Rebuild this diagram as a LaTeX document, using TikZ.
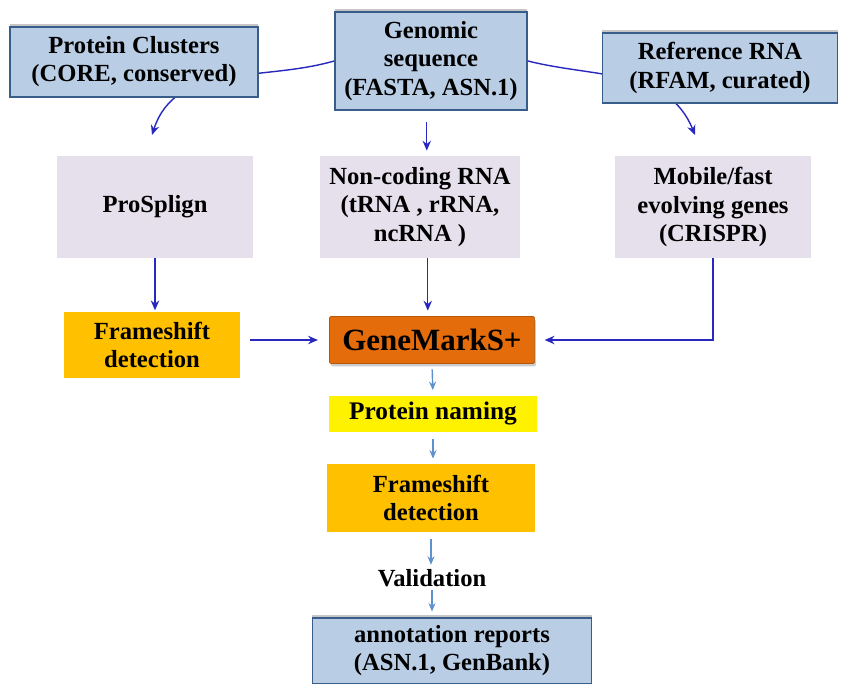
\documentclass[tikz,border=0pt]{standalone}
\usepackage{fontspec}
\setmainfont{LiberationSerif}[Extension=.ttf,UprightFont=*-Regular,BoldFont=*-Bold]
\usetikzlibrary{arrows.meta,shadows,backgrounds}
\definecolor{boxblue}{RGB}{185,205,229}
\definecolor{edgeblue}{RGB}{56,93,138}
\definecolor{lavender}{RGB}{230,224,236}
\definecolor{amber}{RGB}{255,192,0}
\definecolor{rust}{RGB}{228,108,10}
\definecolor{lineblue}{RGB}{40,40,190}
\definecolor{lightarrow}{RGB}{95,145,205}
\begin{document}
\begin{tikzpicture}[x=0.025cm,y=-0.025cm]
\tikzstyle{every node}=[align=center,inner sep=0pt,font=\rmfamily\bfseries\fontsize{17.5}{20}\selectfont]
\tikzstyle{bluebox}=[draw=edgeblue,fill=boxblue,line width=1.2pt,
drop shadow={shadow xshift=0pt,shadow yshift=2pt,opacity=0.45}]
\tikzstyle{lavbox}=[fill=lavender,minimum width=4.9cm,minimum height=2.525cm]
\tikzstyle{amberbox}=[fill=amber]
\tikzstyle{darr}=[lineblue,line width=1pt,-{Stealth[length=7pt,width=6pt]}]
\tikzstyle{larr}=[lightarrow,line width=1pt,-{Stealth[length=6pt,width=5pt]}]
\useasboundingbox (0,0) rectangle (842,684);

% input boxes
\draw (134,62)  node (pc) [bluebox,minimum width=6.2cm,minimum height=1.75cm] {Protein Clusters\\(CORE, conserved)};
\draw (431,61)  node (gs) [bluebox,minimum width=4.8cm,minimum height=2.45cm] {Genomic\\sequence\\(FASTA, ASN.1)};
\draw (720,68)  node (rna) [bluebox,minimum width=5.875cm,minimum height=1.75cm] {Reference RNA\\(RFAM,\ curated)};

% second row
\draw (155,207) node (ps) [lavbox] {ProSplign};
\draw (420,207) node (nc) [lavbox,minimum width=5cm] {Non-coding RNA\\(tRNA , rRNA,\\ncRNA )};
\draw (713,207) node (mb) [lavbox] {Mobile/fast\\evolving genes\\(CRISPR)};

\draw (152,345) node (fsl) [amberbox,minimum width=4.375cm,minimum height=1.65cm] {Frameshift\\detection};
\draw (432,340) node (gm) [fill=rust,draw=rust!80!black,rounded corners=1pt,
minimum width=5.125cm,minimum height=1.175cm,font=\rmfamily\bfseries\fontsize{22}{24}\selectfont,
drop shadow={shadow xshift=1pt,shadow yshift=-2pt,opacity=0.4}] {GeneMarkS+};

% output chain
\draw (433,414) node (pn) [fill=yellow,minimum width=5.175cm,minimum height=0.9cm,font=\rmfamily\bfseries\fontsize{18}{20}\selectfont] {Protein naming};
\draw (431,498) node (fsc) [amberbox,minimum width=5.175cm,minimum height=1.675cm] {Frameshift\\detection};
\draw (432,578) node (val) {Validation};
\draw (452,651) node (ar) [bluebox,minimum width=6.975cm,minimum height=1.65cm] {annotation reports\\(ASN.1, GenBank)};

\coordinate (pcin) at (152,135);
\coordinate (rnain) at (695,135);

\begin{scope}[on background layer]
\draw [darr] (gs.west) to [out=196, in=72] (pcin);
\draw [darr] (gs.east) to [out=-14, in=112] (rnain);
\end{scope}
\draw [darr,shorten <=8pt,shorten >=4pt] ([xshift=-3pt]gs.south) -- ([xshift=-3pt]gs.south |- nc.north);
\draw [darr,shorten >=1pt] (ps.south) -- (ps.south |- fsl.north);
\draw [darr,shorten >=4pt] ([xshift=-3pt]gm.north |- nc.south) -- ([xshift=-3pt]gm.north);
\draw [darr,shorten >=7pt] (mb.south) |- (gm.east);
\draw [darr,shorten <=7pt,shorten >=8pt] (fsl.east |- gm.west) -- (gm.west);
\draw [larr,shorten <=4pt,shorten >=4pt] (gm.south) -- (pn.north);
\draw [larr,shorten <=5pt,shorten >=4pt] (pn.south) -- (pn.south |- fsc.north);
\draw [larr,shorten <=5pt,shorten >=3pt] (fsc.south) -- (fsc.south |- val.north);
\draw [larr,shorten <=2pt,shorten >=4pt] (val.south) -- (val.south |- ar.north);
\end{tikzpicture}
\end{document}
